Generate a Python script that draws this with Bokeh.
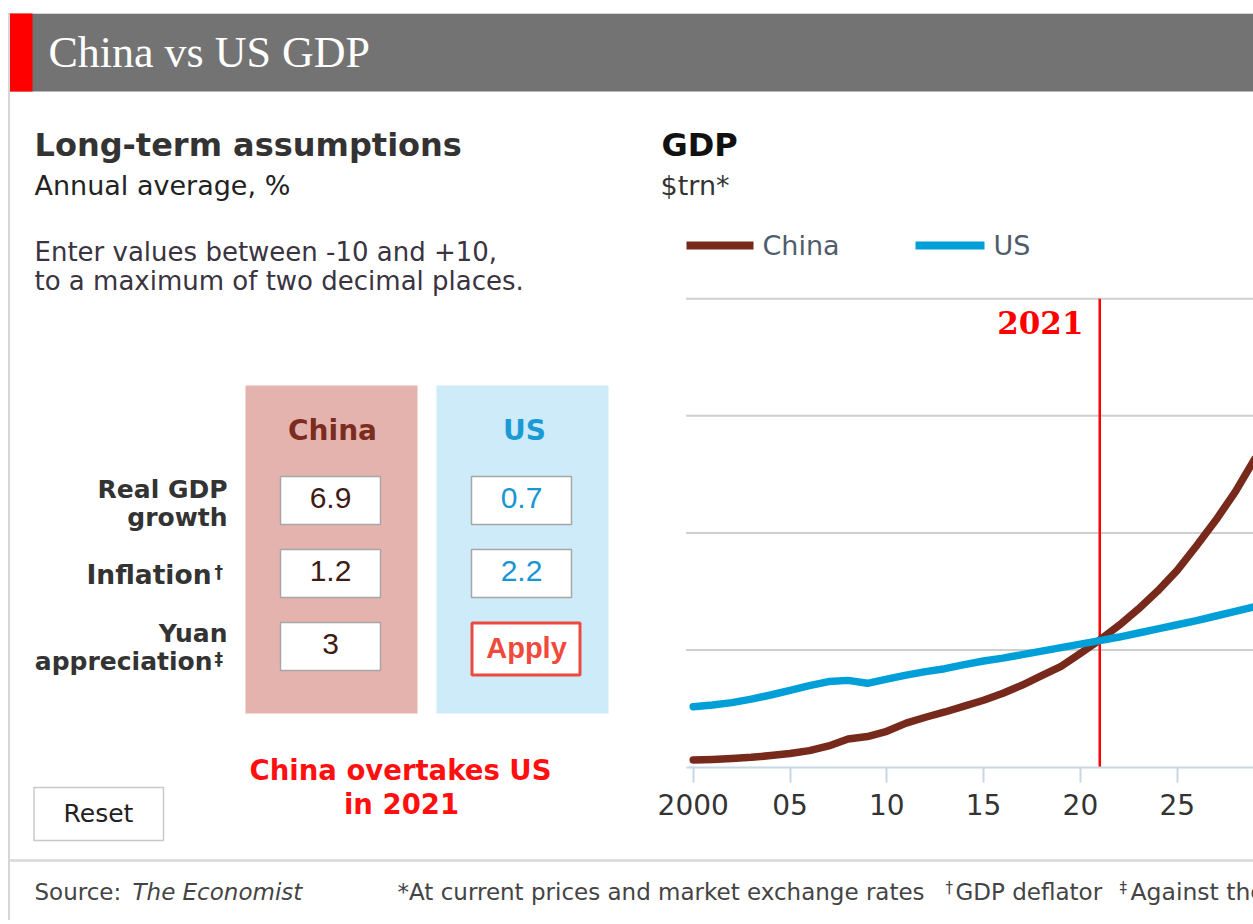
from bokeh.plotting import figure
from bokeh.models import Range1d, LinearAxis, FixedTicker
from bokeh.core.properties import value
from bokeh.embed import file_html
from bokeh.resources import INLINE

# ---------------- data ----------------
years = list(range(2000, 2030))
china_gdp = [1.2, 1.3, 1.45, 1.65, 1.95, 2.3, 2.8, 3.6, 4.8, 5.2,
             6.1, 7.5, 8.5, 9.4, 10.4, 11.4, 12.6, 14.0, 15.6, 17.2,
             19.4, 21.7, 24.2, 27.0, 30.1, 33.6, 37.8, 42.2, 47.0, 52.6]
us_gdp = [10.3, 10.6, 11.0, 11.6, 12.3, 13.1, 13.9, 14.6, 14.8, 14.3,
          15.0, 15.7, 16.3, 16.8, 17.5, 18.1, 18.6, 19.2, 19.8, 20.4,
          21.0, 21.6, 22.2, 22.9, 23.6, 24.3, 25.0, 25.8, 26.6, 27.4]
x_ticks = [2000, 2005, 2010, 2015, 2020, 2025, 2030]
x_tick_labels = ["2000", "05", "10", "15", "20", "25", "30"]
y_grid = [20, 40, 60, 80]
overtake_year = 2021

series_names = ["China", "US"]
row_labels = [["Real GDP", "growth"], ["Inflation"], ["Yuan", "appreciation"]]
row_marks = ["", "\u2020", "\u2021"]
china_inputs = ["6.9", "1.2", "3"]
us_inputs = ["0.7", "2.2"]

# ---------------- styles ----------------
BROWN = "#77291b"
BLUE = "#009fd7"
RED = "#ff0000"
DARK = "#333333"
SANS = "DejaVu Sans"

W, H = 1253, 920
# page-pixel coordinate system (Bokeh's page has no body margin)
p = figure(width=W, height=H, x_range=Range1d(0, W), y_range=Range1d(H, 0),
           output_backend="svg", toolbar_location=None,
           x_axis_location=None, y_axis_location=None, min_border=0,
           outline_line_color=None, background_fill_color="white", border_fill_color="white")
for g in p.grid:
    g.visible = False

# chart scales mapped onto the canvas
PX_PER_YR = 19.36
X2000 = 692.7
PX_PER_U = 5.853
Y0 = 766.5
p.extra_x_ranges = {"yr": Range1d(2000 + (0 - X2000) / PX_PER_YR, 2000 + (W - X2000) / PX_PER_YR)}
p.extra_y_ranges = {"gdp": Range1d((Y0 - H) / PX_PER_U, (Y0 - 0) / PX_PER_U)}


def txt(x, y, s, size, color=DARK, font=SANS, style="normal", align="left"):
    # y is the visual baseline; correct for the renderer's baseline placement
    p.text(x=[x], y=[y - 0.35 * size], text=[s], text_font=value(font), text_font_size=f"{size}px",
           text_font_style=style, text_color=color, text_align=align, text_baseline="alphabetic")


def box(l, r, t, b, fill="white", line=None, lw=1):
    p.quad(left=[l], right=[r], top=[t], bottom=[b], fill_color=fill, line_color=line, line_width=lw)


# ---------------- header ----------------
box(8, W, 13, 91, fill="#737373")
p.segment(x0=[8], y0=[13], x1=[W], y1=[13], line_color="#d4d4d4", line_width=1)
box(9, 32, 13, 91, fill="#ff0000")
p.segment(x0=[8.5], y0=[13], x1=[8.5], y1=[H], line_color="#d6d6d6", line_width=2)
txt(48, 67, "China vs US GDP", 44, color="white", font="Liberation Serif")

# ---------------- left panel ----------------
txt(34, 156, "Long-term assumptions", 32, style="bold")
txt(34, 194, "Annual average, %", 27, color="#222222")
txt(34, 261, "Enter values between -10 and +10,", 26, color="#3a3340")
txt(34, 290, "to a maximum of two decimal places.", 26, color="#3a3340")

box(245, 417, 385, 713, fill="#e5b3ae")
box(436, 608, 385, 713, fill="#cdebf9")
txt(332, 440, series_names[0], 28, color="#7a2d1f", style="bold", align="center")
txt(524, 440, series_names[1], 28, color="#1b9ad6", style="bold", align="center")

row_tops = [476, 549, 622]
for i, top in enumerate(row_tops):
    box(280, 380, top, top + 48, fill="white", line="#a6a6a6", lw=1.5)
    txt(330, top + 32, china_inputs[i], 30, color="#3e1c14", font="Liberation Sans", align="center")
    if i < len(us_inputs):
        box(471, 571, top, top + 48, fill="white", line="#a6a6a6", lw=1.5)
        txt(521, top + 32, us_inputs[i], 30, color="#1896d3", font="Liberation Sans", align="center")

box(471.5, 579.5, 622.5, 674.5, fill="white", line="#ec4a3e", lw=3)
txt(526, 658, "Apply", 29, color="#f04a3d", font="Liberation Sans", style="bold", align="center")

# row labels
txt(227, 498, row_labels[0][0], 25, style="bold", align="right")
txt(227, 526, row_labels[0][1], 25, style="bold", align="right")
txt(211, 583, row_labels[1][0], 26.5, style="bold", align="right")
txt(214, 577, row_marks[1], 17, style="bold", align="left")
txt(227, 642, row_labels[2][0], 25, style="bold", align="right")
txt(212, 670, row_labels[2][1], 25, style="bold", align="right")
txt(214, 664, row_marks[2], 17, style="bold", align="left")

txt(400, 779, "China overtakes US", 27.5, color="#ff1010", style="bold", align="center")
txt(401, 813, f"in {overtake_year}", 27.5, color="#ff1010", style="bold", align="center")

box(33.5, 163, 787, 840, fill="white", line="#c8c8c8", lw=1.5)
txt(98, 822, "Reset", 25, color="#222222", align="center")

# ---------------- footer ----------------
p.segment(x0=[8], y0=[860], x1=[W], y1=[860], line_color="#d9d9d9", line_width=2.5)
txt(34, 900, "Source:", 23, color="#444444")
txt(132, 900, "The Economist", 23, color="#444444", style="italic")
txt(397, 900, "*At current prices and market exchange rates", 23, color="#444444")
txt(945, 893, "\u2020", 15, color="#444444")
txt(955, 900, "GDP deflator", 23, color="#444444")
txt(1119, 893, "\u2021", 15, color="#444444")
txt(1130, 900, "Against the dollar", 23.5, color="#444444")

# ---------------- chart ----------------
txt(661, 156, "GDP", 32, color="#111111", style="bold")
txt(660, 194, "$trn*", 27, color="#333333")
p.segment(x0=[686], y0=[245], x1=[753], y1=[245], line_color=BROWN, line_width=8)
txt(762, 254, series_names[0], 27, color="#4f5d6b")
p.segment(x0=[915], y0=[245], x1=[984], y1=[245], line_color=BLUE, line_width=8)
txt(993, 254, series_names[1], 27, color="#4f5d6b")

n = len(y_grid)
p.segment(x0=[1999.63] * n, y0=y_grid, x1=[2040] * n, y1=y_grid,
          x_range_name="yr", y_range_name="gdp", line_color="#cfcfcf", line_width=2)

ax = LinearAxis(x_range_name="yr", y_range_name="gdp", fixed_location=0,
                ticker=FixedTicker(ticks=x_ticks), bounds=(1999.63, 2040))
ax.major_label_overrides = dict(zip(x_ticks, x_tick_labels))
ax.axis_line_color = "#c9d6e3"
ax.axis_line_width = 2
ax.major_tick_line_color = "#c9d6e3"
ax.major_tick_line_width = 2
ax.major_tick_in = 0
ax.major_tick_out = 15
ax.minor_tick_line_color = None
ax.major_label_text_font = SANS
ax.major_label_text_font_size = "28px"
ax.major_label_text_color = "#333333"
ax.major_label_standoff = 12
p.add_layout(ax, "below")

p.segment(x0=[overtake_year], y0=[0], x1=[overtake_year], y1=[y_grid[-1]],
          x_range_name="yr", y_range_name="gdp", line_color=RED, line_width=2.5)
txt(1083, 333, str(overtake_year), 31, color=RED, font="DejaVu Serif", style="bold", align="right")

p.line(years, china_gdp, x_range_name="yr", y_range_name="gdp", line_color=BROWN,
       line_width=7.5, line_join="round", line_cap="round")
p.line(years, us_gdp, x_range_name="yr", y_range_name="gdp", line_color=BLUE,
       line_width=7.5, line_join="round", line_cap="round")

open("out.html", "w").write(file_html(p, INLINE))
